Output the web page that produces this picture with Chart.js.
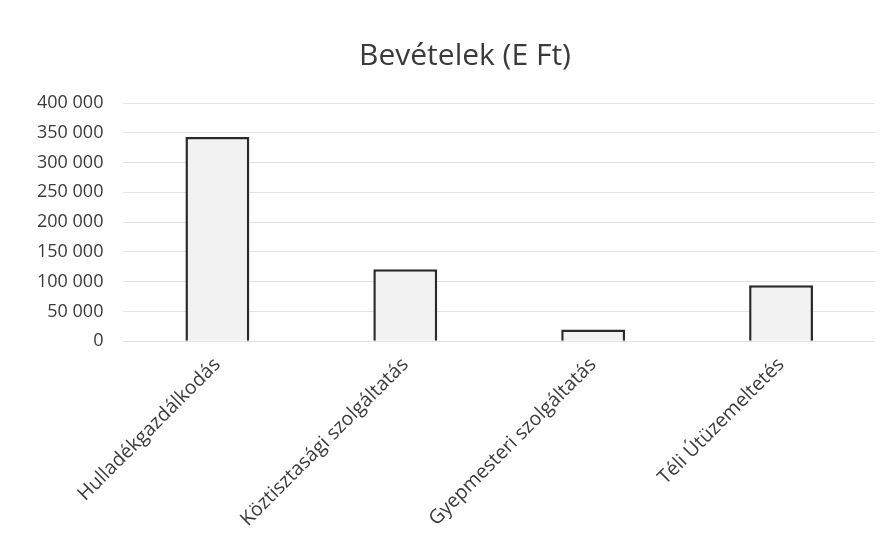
<!DOCTYPE html>
<html>
<head>
<meta charset="utf-8">
<script src="https://cdn.jsdelivr.net/npm/chart.js@4/dist/chart.umd.min.js"></script>
<style>
  html, body { margin: 0; padding: 0; background: #fff; }
  .chart { width: 893px; height: 547px; }
</style>
</head>
<body>
<div class="chart"><canvas id="chart"></canvas></div>
<script>
const categories = [
  'Hulladékgazdálkodás',
  'Köztisztasági szolgáltatás',
  'Gyepmesteri szolgáltatás',
  'Téli Útüzemeltetés',
];
const revenues = [343000, 121000, 20000, 94000];
const chartTitle = 'Bevételek (E Ft)';

const fmt = (v) => String(v).replace(/\B(?=(\d{3})+(?!\d))/g, ' ');

new Chart(document.getElementById('chart'), {
  type: 'bar',
  data: {
    labels: categories,
    datasets: [
      {
        label: chartTitle,
        data: revenues,
        backgroundColor: '#f2f2f2',
        borderColor: '#2a2a2a',
        borderWidth: 2.5,
        borderSkipped: 'bottom',
        barPercentage: 0.68,
        categoryPercentage: 0.5,
      },
    ],
  },
  options: {
    animation: false,
    responsive: true,
    maintainAspectRatio: false,
    // wider left padding keeps the title centred over the plot, y axis is narrowed to match
    layout: { padding: { left: 55, right: 18, top: 0, bottom: 12 } },
    scales: {
      x: {
        grid: { display: false },
        border: { display: false },
        // the rotated first label fits in the canvas anyway, don't let it push the plot right
        afterFit: (scale) => {
          scale.paddingLeft = 0;
        },
        ticks: {
          minRotation: 45,
          maxRotation: 45,
          padding: 4,
          color: '#3a3a3a',
          font: { family: 'Open Sans', size: 19.5 },
        },
      },
      y: {
        min: 0,
        max: 400000,
        border: { display: false },
        grid: { color: '#e2e2e2', drawTicks: false },
        afterFit: (scale) => {
          scale.width -= 38;
          // labels now stick out past the axis box, so skip the label clip
          scale._computeLabelArea = () => null;
        },
        ticks: {
          stepSize: 50000,
          padding: 20,
          color: '#3a3a3a',
          font: { family: 'Open Sans', size: 18 },
          callback: (value) => fmt(value),
        },
      },
    },
    plugins: {
      legend: { display: false },
      tooltip: { enabled: false },
      title: {
        display: true,
        text: chartTitle,
        color: '#3a3a3a',
        font: { family: 'Open Sans', size: 30, weight: 'normal' },
        padding: { top: 38, bottom: 29 },
      },
    },
  },
});
</script>
</body>
</html>
